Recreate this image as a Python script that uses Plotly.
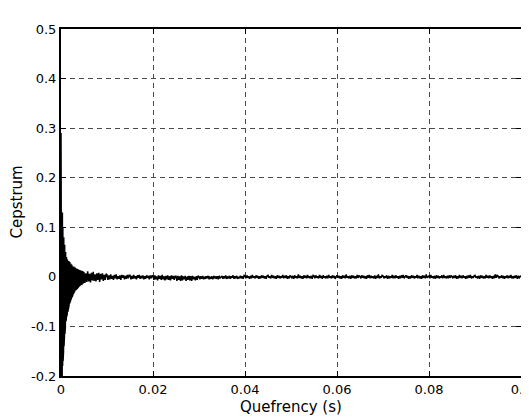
import numpy as np
import plotly.graph_objects as go

# Cepstrum values in units of 1e-3
# early part: 0 .. 0.00495 s, step 0.00005 s
early_dt = 0.00005
early_milli = [
    290, -210, 150, -230, 120, -200, 130, -180, 100, -170,
    95, -150, 80, -140, 70, -120, 65, -115, 55, -100,
    50, -90, 45, -85, 40, -80, 38, -75, 35, -70,
    33, -68, 30, -65, 32, -60, 28, -55, 30, -52,
    26, -50, 27, -47, 24, -45, 25, -42, 23, -40,
    22, -37, 21, -35, 20, -33, 21, -31, 19, -30,
    18, -28, 19, -27, 17, -26, 16, -25, 17, -24,
    15, -23, 16, -22, 14, -21, 15, -20, 14, -20,
    13, -19, 14, -18, 12, -17, 13, -16, 12, -16,
    11, -15, 12, -14, 11, -14, 10, -13, 11, -12,
]
# later part: 0.005 .. 0.1 s, step 0.0002 s
late_start = 0.005
late_dt = 0.0002
late_milli = [
    9, -12, 7, -10, 11, -9, 6, -11, 8, -7, 10, -8, 5, -9, 7, -6, 8, -10, 6, -5, 7, -8, 4, -6, 6,
    4, -6, 3, -5, 5, -4, 2, -6, 4, -3, 5, -5, 1, -4, 3, -6, 4, -2, 3, -5, 2, -4, 4, -3, 3,
    3, -5, 2, -4, 4, -3, 1, -5, 3, -2, 4, -4, 2, -3, 3, -5, 1, -4, 3, -2, 2, -5, 3, -3, 2,
    2, -6, 3, -5, 1, -7, 3, -4, 2, -6, 4, -5, 0, -7, 2, -5, 3, -6, 1, -7, 3, -4, 2, -6, 1,
    1, -8, 2, -6, 0, -8, 3, -7, 1, -5, 2, -8, 0, -6, 2, -7, 1, -8, 2, -5, 0, -7, 1, -6, 2,
    0, -5, 1, -4, 2, -5, 0, -4, 1, -3, 2, -5, 0, -4, 1, -5, 2, -3, 0, -4, 1, -5, 2, -3, 1,
    2, -4, 1, -3, 3, -4, 0, -3, 2, -4, 1, -2, 3, -4, 1, -3, 2, -4, 0, -3, 2, -3, 1, -4, 3,
    2, -3, 3, -2, 1, -4, 2, -3, 4, -2, 1, -3, 3, -2, 2, -4, 1, -3, 3, -2, 2, -3, 1, -4, 2,
    3, -2, 1, -3, 4, -2, 2, -3, 1, -4, 3, -2, 2, -3, 1, -2, 4, -3, 2, -2, 3, -4, 1, -3, 2,
    1, -3, 2, -4, 3, -2, 1, -3, 5, -2, 2, -3, 1, -4, 3, -2, 2, -3, 4, -2, 1, -3, 2, -4, 3,
    2, -3, 3, -2, 1, -3, 4, -2, 2, -4, 3, -2, 1, -3, 2, -3, 4, -2, 1, -3, 3, -2, 2, -4, 1,
    3, -2, 2, -3, 1, -4, 3, -2, 2, -3, 5, -2, 1, -3, 2, -4, 3, -2, 2, -3, 1, -3, 4, -2, 2,
    1, -3, 3, -2, 2, -3, 1, -4, 3, -2, 4, -3, 2, -2, 1, -3, 3, -4, 2, -2, 5, -3, 1, -2, 3,
    2, -3, 1, -2, 3, -4, 2, -3, 1, -2, 4, -3, 2, -3, 3, -2, 1, -4, 2, -3, 3, -2, 4, -3, 1,
    3, -2, 2, -4, 1, -3, 3, -2, 2, -3, 1, -2, 4, -3, 2, -3, 1, -4, 3, -2, 2, -3, 5, -2, 1,
    2, -3, 4, -2, 1, -3, 2, -4, 3, -2, 2, -3, 1, -2, 3, -3, 4, -2, 1, -3, 2, -3, 3, -2, 2,
    1, -3, 2, -2, 3, -4, 1, -3, 4, -2, 2, -3, 3, -2, 1, -4, 2, -3, 3, -2, 4, -3, 1, -2, 2,
    3, -2, 1, -3, 2, -4, 3, -2, 2, -3, 1, -3, 4, -2, 2, -3, 3, -2, 1, -4, 2, -3, 5, -2, 3,
    2, -3, 1, -2, 3, -3, 2, -4, 1, -2, 3, -3, 2, -2, 4, -3, 1, -3, 2, -2, 3, -4, 2, -3, 1, 2,
]

x_tickvals = [0, 0.02, 0.04, 0.06, 0.08, 0.1]
x_ticktext = ["0", "0.02", "0.04", "0.06", "0.08", "0.1"]
y_tickvals = [-0.2, -0.1, 0, 0.1, 0.2, 0.3, 0.4, 0.5]
y_ticktext = ["-0.2", "-0.1", "0", "0.1", "0.2", "0.3", "0.4", "0.5"]
x_title = "Quefrency (s)"
y_title = "Cepstrum"

q = np.concatenate([np.arange(len(early_milli)) * early_dt,
                    late_start + np.arange(len(late_milli)) * late_dt])
c = np.array(early_milli + late_milli) / 1000.0

fig = go.Figure()
fig.add_trace(go.Scatter(x=q, y=c, mode="lines",
                         line=dict(color="black", width=1.5), showlegend=False))

tick_font = dict(family="DejaVu Sans, sans-serif", size=13, color="black")
title_font = dict(family="DejaVu Sans, sans-serif", size=15, color="black")
axis_common = dict(showline=True, linecolor="black", linewidth=2, mirror="ticks",
                   ticks="inside", ticklen=5, tickcolor="black", tickwidth=1,
                   showgrid=True, gridcolor="#4a4a4a", gridwidth=1, griddash="5px,4px",
                   zeroline=False, tickfont=tick_font, automargin=False,
                   ticklabeloverflow="allow")

fig.update_xaxes(range=[0, 0.1], tickvals=x_tickvals, ticktext=x_ticktext, **axis_common)
fig.update_yaxes(range=[-0.2, 0.5], tickvals=y_tickvals, ticktext=y_ticktext, **axis_common)

fig.add_annotation(text=x_title, xref="paper", yref="paper", x=0.5, y=0,
                   xanchor="center", yanchor="top", yshift=-20, showarrow=False,
                   font=title_font)
fig.add_annotation(text=y_title, xref="paper", yref="paper", x=0, y=0.5,
                   xanchor="center", yanchor="middle", xshift=-45, textangle=-90,
                   showarrow=False, font=title_font)

# the page body adds an 8px offset, so the figure is sized to fill the rest
fig.update_layout(width=521, height=409, margin=dict(l=53, r=8, t=21, b=41),
                  paper_bgcolor="white", plot_bgcolor="white", font=tick_font)

fig.write_html("out.html")
